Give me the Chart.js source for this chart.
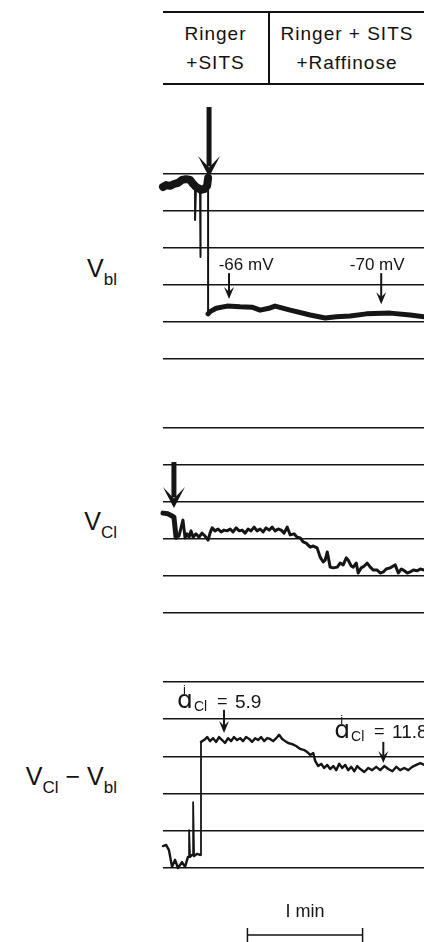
<!DOCTYPE html>
<html lang="en">
<head>
    <meta charset="UTF-8">
    <title>Vbl / VCl traces</title>
    <script src="https://cdn.jsdelivr.net/npm/chart.js"></script>
    <style>
        body { margin: 0; background: #fff; }
        .page { position: relative; width: 424px; height: 942px; overflow: hidden; font-family: "Liberation Sans", Arial, sans-serif; color: #111; }
        .header { position: absolute; left: 163px; top: 11px; width: 261px; height: 74px; box-sizing: border-box;
                  border-top: 2px solid #111; border-bottom: 2px solid #111; display: flex; }
        .cell { display: flex; flex-direction: column; justify-content: center; align-items: center;
                font-size: 19px; letter-spacing: 1px; line-height: 29px; }
        .cell.left { width: 105px; border-right: 2px solid #111; }
        .cell.right { flex: 1; }
        .vlabel { position: absolute; left: 0; width: 117px; text-align: right; font-size: 25px; line-height: 25px; }
        .vlabel sub { font-size: 17px; vertical-align: -8px; line-height: 0; }
        canvas { position: absolute; left: 150px; }
    </style>
</head>
<body>
<div class="page">
    <div class="header">
        <div class="cell left"><div>Ringer</div><div>+SITS</div></div>
        <div class="cell right"><div>Ringer + SITS</div><div>+Raffinose</div></div>
    </div>

    <div class="vlabel" style="top:256px">V<sub>bl</sub></div>
    <div class="vlabel" style="top:509px">V<sub>Cl</sub></div>
    <div class="vlabel" style="top:764px">V<sub>Cl</sub> − V<sub>bl</sub></div>

    <canvas id="vblChart" width="274" height="285" style="top:95px"></canvas>
    <canvas id="vclChart" width="274" height="215" style="top:415px"></canvas>
    <canvas id="diffChart" width="274" height="277" style="top:665px"></canvas>
</div>

<script>
    // time in seconds, potentials in mV
    const timeRange = [0, 136];

    // basolateral membrane potential
    const vblTime = [0, 1.6, 3.7, 5.7, 7.8, 9.9, 12.0, 14.1, 15.7, 16.7, 16.7, 17.2, 18.3, 19.3, 19.3, 19.8, 21.4, 23.0, 23.5,
        23.5, 24.5, 27.7, 33.4, 40.2, 46.4, 50.6, 55.8, 58.4, 66.3, 76.7, 84.5, 90.3, 97.5, 106.0, 118.4, 128.8, 136.2];
    const vblValues = [-33.5, -33.0, -33.2, -32.7, -32.4, -31.6, -31.4, -31.6, -32.7, -33.2, -42.4, -33.5, -33.8, -34.1, -52.4, -34.3, -34.1, -33.2, -31.1,
        -67.8, -67.2, -66.3, -65.7, -65.9, -66.0, -66.8, -66.2, -65.7, -66.8, -68.1, -68.9, -68.6, -68.4, -67.8, -67.6, -68.1, -68.6];

    // chloride electrode potential
    const vclTime = [0, 2.6, 4.7, 5.7, 6.8, 8.3, 9.4, 10.4, 11.5, 12.5, 13.6, 14.6, 15.7, 17.2, 18.8, 20.3, 21.9, 23.5, 24.5, 25.6,
        27.1, 28.7, 30.3, 31.8, 33.4, 35.0, 36.5, 38.1, 39.7, 41.2, 42.8, 44.3, 45.9, 47.5, 49.0, 50.6, 52.2, 53.7, 55.3, 56.9,
        58.4, 60.0, 61.6, 63.1, 64.7, 66.3, 68.3, 69.9, 71.5, 73.0, 74.6, 76.7, 78.3, 80.3, 81.9, 83.5, 84.5, 85.6, 87.1, 88.7,
        90.8, 92.3, 93.9, 95.5, 96.5, 98.1, 99.1, 100.7, 101.7, 103.3, 104.9, 106.4, 108.0, 109.6, 111.6, 113.2, 114.8, 116.3, 118.4, 120.0,
        121.0, 122.6, 124.2, 125.2, 127.3, 128.8, 130.4, 132.5, 134.1, 136.2];
    const vclValues = [-33.0, -33.2, -33.8, -34.1, -39.5, -39.2, -37.0, -34.9, -39.7, -38.6, -39.5, -37.8, -39.5, -38.6, -39.5, -38.4, -39.2, -40.3, -38.4, -37.0,
        -37.8, -37.3, -38.1, -37.6, -37.8, -37.3, -38.1, -37.0, -37.8, -37.6, -38.4, -37.3, -37.8, -36.8, -37.8, -37.3, -38.1, -37.0, -37.6, -36.8,
        -37.8, -37.3, -37.6, -38.4, -36.8, -38.9, -38.6, -39.5, -39.7, -40.8, -41.1, -42.2, -41.9, -42.4, -44.9, -46.2, -45.7, -43.5, -47.6, -47.8,
        -47.6, -46.5, -47.0, -45.1, -45.7, -47.3, -47.6, -46.5, -49.2, -47.8, -47.3, -46.5, -47.6, -48.4, -48.4, -49.2, -48.9, -48.1, -47.8, -47.3,
        -47.0, -49.2, -48.1, -48.4, -49.2, -48.9, -48.4, -48.6, -48.1, -48.4];

    // difference VCl - Vbl
    const diffTime = [0, 1.6, 3.1, 4.7, 6.3, 7.8, 9.9, 11.5, 13.0, 13.6, 13.6, 14.1, 15.1, 15.7, 15.7, 16.2, 17.7, 19.3, 19.8,
        19.8, 21.4, 23.0, 24.5, 26.1, 27.7, 29.2, 30.8, 32.3, 33.9, 35.5, 37.0, 38.6, 40.2, 41.7, 43.3, 44.9, 46.4, 48.0, 49.6,
        51.1, 52.7, 54.3, 55.8, 57.4, 59.0, 60.5, 62.1, 63.7, 65.2, 67.3, 69.4, 71.5, 73.6, 75.1, 76.7, 78.3, 79.3, 80.9, 82.4,
        84.0, 85.6, 87.1, 88.7, 90.3, 91.8, 93.4, 95.0, 96.5, 98.1, 99.7, 101.2, 102.8, 104.9, 107.0, 109.0, 111.1, 113.2, 115.3, 117.4,
        119.5, 121.6, 123.6, 125.7, 127.8, 129.9, 132.0, 134.1, 136.2];
    const diffValues = [-4.1, -3.8, -5.2, -9.7, -7.8, -10.0, -8.4, -9.7, -7.0, -7.0, 0.2, -7.0, -6.5, -6.5, 7.7, -6.8, -6.2, -6.5, -6.5,
        23.9, 24.4, 25.2, 24.1, 24.9, 23.9, 25.2, 24.4, 23.6, 24.9, 24.1, 25.2, 24.4, 24.9, 24.1, 25.2, 24.7, 23.9, 24.9, 24.4,
        25.2, 24.1, 24.9, 24.7, 24.1, 24.9, 25.8, 24.7, 24.1, 23.6, 23.3, 22.8, 22.0, 21.7, 21.2, 20.4, 20.9, 18.8, 17.4, 18.0,
        16.9, 17.7, 16.6, 17.4, 16.3, 18.0, 16.9, 17.7, 16.3, 17.2, 16.0, 17.4, 16.6, 15.8, 16.9, 16.3, 17.2, 16.3, 17.4, 16.6,
        16.0, 17.2, 16.3, 16.9, 16.3, 17.2, 17.7, 18.2, 17.7];

    // arrows and readings marked on the traces
    const vblMarks = [
        { t: 24.0, from: -11.9, to: -30.8, big: true },
        { t: 34.4, from: -56.8, to: -63.8, text: '-66 mV', textT: 43.3, textV: -56.0 },
        { t: 113.7, from: -56.8, to: -65.2, text: '-70 mV', textT: 111.6, textV: -56.0 }
    ];
    const vclMarks = [
        { t: 5.7, from: -19.2, to: -31.6, big: true }
    ];
    const diffMarks = [
        { t: 31.8, from: 32.5, to: 26.3, activity: '5.9', textT: 7.3, textV: 33.0 },
        { t: 114.8, from: 23.9, to: 18.2, activity: '11.8', textT: 89.2, textV: 25.0 }
    ];
    const scaleBar = { start: 44.0, length: 60, text: 'I min' };

    const INK = '#151515';

    function drawArrow(ctx, x, y0, y1, big) {
        const sw = big ? 5 : 2, hw = big ? 11 : 5, hl = big ? 21 : 12;
        ctx.fillStyle = INK;
        ctx.fillRect(x - sw / 2, y0, sw, y1 - y0 - hl * 0.5);
        ctx.beginPath();
        ctx.moveTo(x, y1);
        ctx.lineTo(x - hw, y1 - hl);
        ctx.lineTo(x, y1 - hl * (big ? 0.45 : 0.6));
        ctx.lineTo(x + hw, y1 - hl);
        ctx.closePath();
        ctx.fill();
    }

    function drawActivity(ctx, x, y, value) {
        ctx.fillStyle = INK;
        ctx.textAlign = 'left';
        ctx.textBaseline = 'alphabetic';
        ctx.font = '25px "DejaVu Sans"';
        ctx.fillText('ɑ', x, y);
        const w = ctx.measureText('ɑ').width;
        ctx.font = '13px "Liberation Sans"';
        ctx.fillText('i', x + w * 0.38, y - 14);
        ctx.font = '14px "Liberation Sans"';
        ctx.fillText('Cl', x + w + 1, y + 3);
        ctx.font = '18px "Liberation Sans"';
        ctx.fillText('=', x + w + 24, y - 1);
        ctx.font = '19px "Liberation Sans"';
        ctx.fillText(value, x + w + 42, y);
    }

    const marksPlugin = {
        id: 'marks',
        afterDatasetsDraw(chart, args, opts) {
            const ctx = chart.ctx, xs = chart.scales.x, ys = chart.scales.y;
            ctx.save();
            (opts.marks || []).forEach(m => {
                drawArrow(ctx, xs.getPixelForValue(m.t), ys.getPixelForValue(m.from), ys.getPixelForValue(m.to), m.big);
                if (m.text) {
                    ctx.fillStyle = INK;
                    ctx.font = '17px "Liberation Sans"';
                    ctx.textAlign = 'center';
                    ctx.textBaseline = 'alphabetic';
                    ctx.fillText(m.text, xs.getPixelForValue(m.textT), ys.getPixelForValue(m.textV));
                }
                if (m.activity) {
                    drawActivity(ctx, xs.getPixelForValue(m.textT), ys.getPixelForValue(m.textV), m.activity);
                }
            });
            if (opts.bar) {
                const b = opts.bar, y = chart.chartArea.bottom + 67;
                const x0 = xs.getPixelForValue(b.start), x1 = xs.getPixelForValue(b.start + b.length);
                ctx.strokeStyle = INK;
                ctx.lineWidth = 1.5;
                ctx.beginPath();
                ctx.moveTo(x0, y); ctx.lineTo(x1, y);
                ctx.moveTo(x0, y - 7); ctx.lineTo(x0, y + 7);
                ctx.moveTo(x1, y - 7); ctx.lineTo(x1, y + 7);
                ctx.stroke();
                ctx.fillStyle = INK;
                ctx.font = '18px "Liberation Sans"';
                ctx.textAlign = 'center';
                ctx.fillText(b.text, (x0 + x1) / 2, chart.chartArea.bottom + 49);
            }
            ctx.restore();
        }
    };

    function makeChart(id, times, values, yMin, yMax, pad, widthFn, marks, bar) {
        return new Chart(document.getElementById(id), {
            type: 'line',
            data: {
                datasets: [{
                    data: times.map((t, i) => ({ x: t, y: values[i] })),
                    borderColor: INK,
                    borderWidth: 3,
                    borderCapStyle: 'round',
                    borderJoinStyle: 'round',
                    pointRadius: 0,
                    tension: 0,
                    clip: false,
                    segment: { borderWidth: widthFn }
                }]
            },
            options: {
                responsive: false,
                animation: false,
                events: [],
                layout: { padding: pad },
                plugins: {
                    legend: { display: false },
                    tooltip: { enabled: false },
                    marks: { marks: marks, bar: bar }
                },
                scales: {
                    x: { type: 'linear', min: timeRange[0], max: timeRange[1], display: false },
                    y: {
                        min: yMin, max: yMax,
                        ticks: { stepSize: 10, display: false },
                        grid: { color: INK, lineWidth: 1.4, drawTicks: false },
                        border: { display: false },
                        afterFit: s => { s.width = 0; }
                    }
                }
            },
            plugins: [marksPlugin]
        });
    }

    // spikes and steps are thin pen strokes, the resting trace is thick
    makeChart('vblChart', vblTime, vblValues, -80, -30, { left: 13, right: 0, top: 79, bottom: 21 },
        c => {
            const a = c.p0.parsed, b = c.p1.parsed;
            if (Math.abs(b.y - a.y) > 3) return 2;
            return b.x <= 23.5 ? 8 : 5;
        }, vblMarks, null);

    makeChart('vclChart', vclTime, vclValues, -60, -10, { left: 13, right: 0, top: 13, bottom: 17 },
        c => c.p0.parsed.x < 6 ? 5 : 3, vclMarks, null);

    makeChart('diffChart', diffTime, diffValues, -10, 40, { left: 13, right: 0, top: 17, bottom: 74 },
        c => Math.abs(c.p1.parsed.y - c.p0.parsed.y) > 5 ? 1.8 : 2.4, diffMarks, scaleBar);
</script>
</body>
</html>
